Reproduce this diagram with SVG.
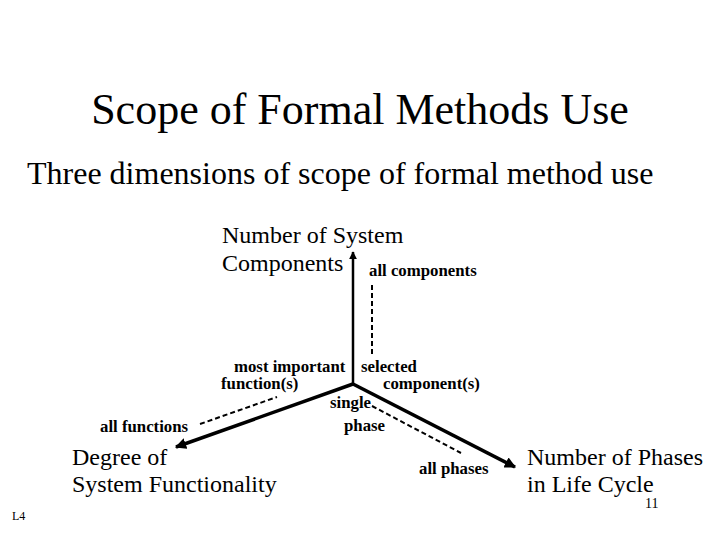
<svg xmlns="http://www.w3.org/2000/svg" width="720" height="540" viewBox="0 0 720 540">
<style>
text{font-family:'Liberation Serif','Times New Roman',serif;fill:#000}
.t{font-size:44px}
.s{font-size:32px}
.a{font-size:24px}
.l{font-size:16.8px;font-weight:bold}
.ax{stroke:#000;fill:none}
.d{stroke:#000;stroke-width:2;stroke-dasharray:5,3;fill:none}
</style>
<defs>
<marker id="ah" viewBox="0 0 10 10" refX="9" refY="5" markerWidth="3.2" markerHeight="3.2" orient="auto" markerUnits="strokeWidth"><path d="M0,0 L10,5 L0,10 z" fill="#000"/></marker>
</defs>
<rect width="720" height="540" fill="#fff"/>
<text class="t" x="360" y="124" text-anchor="middle">Scope of Formal Methods Use</text>
<text class="s" x="27" y="184">Three dimensions of scope of formal method use</text>
<g id="connectors">
<line class="ax" x1="353" y1="384" x2="353" y2="252" stroke-width="2.5" marker-end="url(#ah)"/>
<line class="ax" x1="353" y1="384" x2="176" y2="447" stroke-width="3.5" marker-end="url(#ah)"/>
<line class="ax" x1="353" y1="384" x2="515" y2="467" stroke-width="3.5" marker-end="url(#ah)"/>
<line class="d" x1="372" y1="285" x2="372" y2="354"/>
<line class="d" x1="200" y1="424" x2="277" y2="397"/>
<line class="d" x1="372" y1="406" x2="461" y2="453"/>
</g>
<g id="axis-components">
<text class="a" x="222" y="243">Number of System</text>
<text class="a" x="222" y="271">Components</text>
</g>
<g id="label-all-components"><text class="l" x="369" y="276">all components</text></g>
<g id="label-most-important">
<text class="l" x="234" y="372">most important</text>
<text class="l" x="221" y="389">function(s)</text>
</g>
<g id="label-selected">
<text class="l" x="361" y="372">selected</text>
<text class="l" x="383" y="389">component(s)</text>
</g>
<g id="label-single-phase">
<text class="l" x="330" y="408">single</text>
<text class="l" x="344" y="431">phase</text>
</g>
<g id="label-all-functions"><text class="l" x="100" y="432">all functions</text></g>
<g id="label-all-phases"><text class="l" x="419" y="474">all phases</text></g>
<g id="axis-functionality">
<text class="a" x="72" y="465">Degree of</text>
<text class="a" x="72" y="492">System Functionality</text>
</g>
<g id="axis-phases">
<text class="a" x="527" y="465">Number of Phases</text>
<text class="a" x="527" y="492">in Life Cycle</text>
</g>
<text x="645" y="508" font-size="14">11</text>
<text x="12" y="520" font-size="12">L4</text>
</svg>
